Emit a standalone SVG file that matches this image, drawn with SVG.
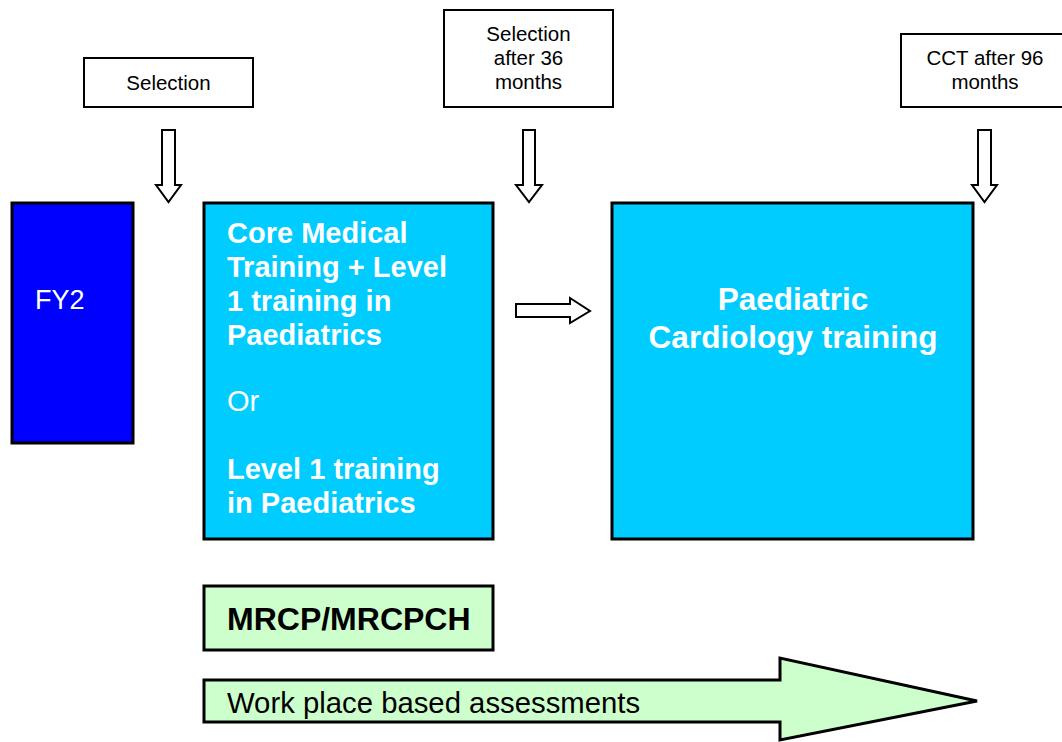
<svg xmlns="http://www.w3.org/2000/svg" width="1062" height="742" viewBox="0 0 1062 742">
<style>
text{font-family:"Liberation Sans",Arial,sans-serif}
.lbl{fill:#fff;stroke:#000;stroke-width:2}
.lt{font-size:20.5px;fill:#000;text-anchor:middle}
.big{stroke:#000;stroke-width:3}
.wt{fill:#fff;font-size:29px}
.b{font-weight:bold}
.arr{fill:#fff;stroke:#000;stroke-width:2;stroke-linejoin:miter}
</style>
<rect width="1062" height="742" fill="#fff"/>
<g id="sel1">
<rect class="lbl" x="84" y="58" width="169" height="49"/>
<text class="lt" x="168.5" y="90">Selection</text>
</g>
<g id="sel2">
<rect class="lbl" x="444" y="10" width="169" height="97"/>
<text class="lt" x="528.5" y="41">Selection</text>
<text class="lt" x="528.5" y="65">after 36</text>
<text class="lt" x="528.5" y="89">months</text>
</g>
<g id="cct">
<rect class="lbl" x="901" y="34" width="170" height="73"/>
<text class="lt" x="985" y="65">CCT after 96</text>
<text class="lt" x="985" y="89">months</text>
</g>
<g id="fy2">
<rect class="big" x="12" y="203" width="121" height="240" fill="#0000FF"/>
<text x="35" y="309" fill="#fff" font-size="27">FY2</text>
</g>
<g id="core">
<rect class="big" x="204" y="203" width="289" height="336" fill="#00CCFF"/>
<text class="wt b" x="227" y="243">Core Medical</text>
<text class="wt b" x="227" y="277">Training + Level</text>
<text class="wt b" x="227" y="311">1 training in</text>
<text class="wt b" x="227" y="345">Paediatrics</text>
<text class="wt" x="227" y="411">Or</text>
<text class="wt b" x="227" y="479">Level 1 training</text>
<text class="wt b" x="227" y="513">in Paediatrics</text>
</g>
<g id="cardio">
<rect class="big" x="612" y="203" width="361" height="336" fill="#00CCFF"/>
<text x="793" y="310" fill="#fff" font-size="31.5" font-weight="bold" text-anchor="middle">Paediatric</text>
<text x="793" y="348" fill="#fff" font-size="31.5" font-weight="bold" text-anchor="middle">Cardiology training</text>
</g>
<g id="mrcp">
<rect class="big" x="204" y="586" width="289" height="64" fill="#CCFFCC"/>
<text x="227" y="630" font-size="32" font-weight="bold" fill="#000">MRCP/MRCPCH</text>
</g>
<g id="wpba">
<path d="M204,680 H780 V658 L977,701 L780,740 V722 H204 Z" fill="#CCFFCC" stroke="#000" stroke-width="3"/>
<text x="227" y="713" font-size="29.3" fill="#000">Work place based assessments</text>
</g>
<g id="connectors">
<path class="arr" d="M162,130 H175 V185 H181 L168.5,202 L156,185 H162 Z"/>
<path class="arr" d="M523,130 H535 V185 H542 L529,202 L516,185 H523 Z"/>
<path class="arr" d="M978,130 H991 V185 H997 L984.5,202 L972,185 H978 Z"/>
<path class="arr" d="M516,304 H570 V298 L590,311 L570,323 V317 H516 Z"/>
</g>
</svg>
